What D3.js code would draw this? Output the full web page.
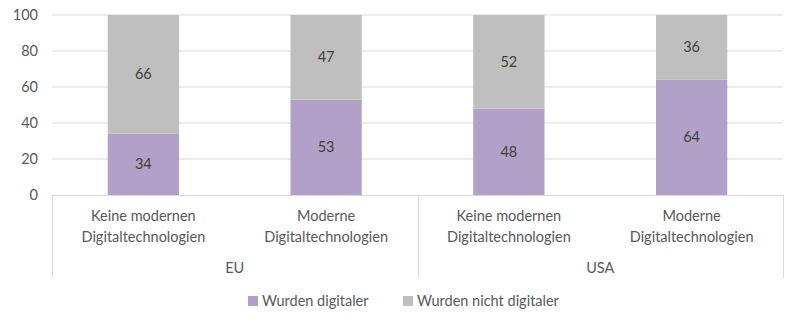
<!DOCTYPE html>
<html>
<head>
<meta charset="utf-8">
<script src="https://cdn.jsdelivr.net/npm/d3@7"></script>
<style>
  body { margin: 0; background: #fff; }
  svg { display: block; font-family: Lato, "Open Sans", sans-serif; }
</style>
</head>
<body>
<div class="svgcontainer"></div>
<script>
// values per bar, grouped by region
const regions = ['EU', 'USA'];
const categories = ['Keine modernen Digitaltechnologien', 'Moderne Digitaltechnologien'];
const categoryLines = [['Keine modernen', 'Digitaltechnologien'], ['Moderne', 'Digitaltechnologien']];
const seriesNames = ['Wurden digitaler', 'Wurden nicht digitaler'];
const digitaler = [34, 53, 48, 64];
const nichtDigitaler = [66, 47, 52, 36];
const yTicks = [0, 20, 40, 60, 80, 100];

const colors = ['#b1a0c7', '#bfbfbf'];

const svg = d3
  .select('.svgcontainer')
  .append('svg')
  .attr('width', 800)
  .attr('height', 324);

const margin = {top: 15, right: 17, bottom: 129, left: 52};
const width = 800 - margin.left - margin.right;
const height = 324 - margin.top - margin.bottom;
const g = svg.append('g').attr('transform', `translate(${margin.left},${margin.top})`);

// one row per bar
const rows = [];
regions.forEach((r, ri) => {
  categories.forEach((c, ci) => {
    const i = ri * categories.length + ci;
    rows.push({key: r + '|' + c, region: r, ci: ci, [seriesNames[0]]: digitaler[i], [seriesNames[1]]: nichtDigitaler[i]});
  });
});

const x = d3.scaleBand().domain(rows.map(d => d.key)).range([0, width]).paddingInner(0.61).paddingOuter(0.305);
const y = d3.scaleLinear().domain([0, 100]).range([height, 0]);

// gridlines
g.append('g')
  .selectAll('line')
  .data(yTicks.filter(t => t > 0))
  .enter()
  .append('line')
  .attr('x1', 0)
  .attr('x2', width)
  .attr('y1', d => y(d))
  .attr('y2', d => y(d))
  .attr('stroke', '#d9d9d9')
  .attr('stroke-width', 1);

// y labels
g.append('g')
  .selectAll('text')
  .data(yTicks)
  .enter()
  .append('text')
  .attr('x', -14)
  .attr('y', d => y(d))
  .attr('dy', '0.35em')
  .attr('text-anchor', 'end')
  .attr('fill', '#595959')
  .style('font-size', '14.5px')
  .text(d => d);

const stack = d3.stack().keys(seriesNames)(rows);

const serie = g
  .selectAll('.serie')
  .data(stack)
  .enter()
  .append('g')
  .attr('class', 'serie')
  .attr('fill', (d, i) => colors[i]);

serie
  .selectAll('rect')
  .data(d => d)
  .enter()
  .append('rect')
  .attr('x', d => x(d.data.key))
  .attr('y', d => y(d[1]))
  .attr('width', x.bandwidth())
  .attr('height', d => y(d[0]) - y(d[1]));

serie
  .selectAll('text')
  .data(d => d.map(p => Object.assign(p, {val: p[1] - p[0]})))
  .enter()
  .append('text')
  .attr('x', d => x(d.data.key) + x.bandwidth() / 2)
  .attr('y', d => y((d[0] + d[1]) / 2))
  .attr('dy', '0.35em')
  .attr('text-anchor', 'middle')
  .attr('fill', '#404040')
  .style('font-size', '14.5px')
  .text(d => d.val);

// axis line and group separators
g.append('line')
  .attr('x1', 0)
  .attr('x2', width)
  .attr('y1', height + 0.5)
  .attr('y2', height + 0.5)
  .attr('stroke', '#d9d9d9');

const groupW = width / regions.length;
g.append('g')
  .selectAll('line')
  .data(d3.range(regions.length + 1))
  .enter()
  .append('line')
  .attr('x1', d => Math.round(d * groupW) + 0.5)
  .attr('x2', d => Math.round(d * groupW) + 0.5)
  .attr('y1', height)
  .attr('y2', height + 83)
  .attr('stroke', '#d9d9d9');

// category labels
const catLabel = g
  .append('g')
  .selectAll('text')
  .data(rows)
  .enter()
  .append('text')
  .attr('x', d => x(d.key) + x.bandwidth() / 2)
  .attr('y', height + 26)
  .attr('text-anchor', 'middle')
  .attr('fill', '#595959')
  .style('font-size', '14.5px');

catLabel
  .selectAll('tspan')
  .data(d => categoryLines[d.ci].map(t => ({t: t, x: x(d.key) + x.bandwidth() / 2})))
  .enter()
  .append('tspan')
  .attr('x', d => d.x)
  .attr('dy', (d, i) => (i === 0 ? 0 : 21))
  .text(d => d.t);

g.append('g')
  .selectAll('text')
  .data(regions)
  .enter()
  .append('text')
  .attr('x', (d, i) => (i + 0.5) * groupW)
  .attr('y', height + 78)
  .attr('text-anchor', 'middle')
  .attr('fill', '#595959')
  .style('font-size', '14.5px')
  .text(d => d);

// legend
const legend = svg
  .append('g')
  .selectAll('g')
  .data(seriesNames)
  .enter()
  .append('g')
  .attr('transform', (d, i) => `translate(${i === 0 ? 248 : 403},301)`);

legend
  .append('rect')
  .attr('x', 0)
  .attr('y', -5)
  .attr('width', 10)
  .attr('height', 10)
  .attr('fill', (d, i) => colors[i]);

legend
  .append('text')
  .attr('x', 14)
  .attr('dy', '0.35em')
  .attr('fill', '#595959')
  .style('font-size', '14.5px')
  .text(d => d);
</script>
</body>
</html>
